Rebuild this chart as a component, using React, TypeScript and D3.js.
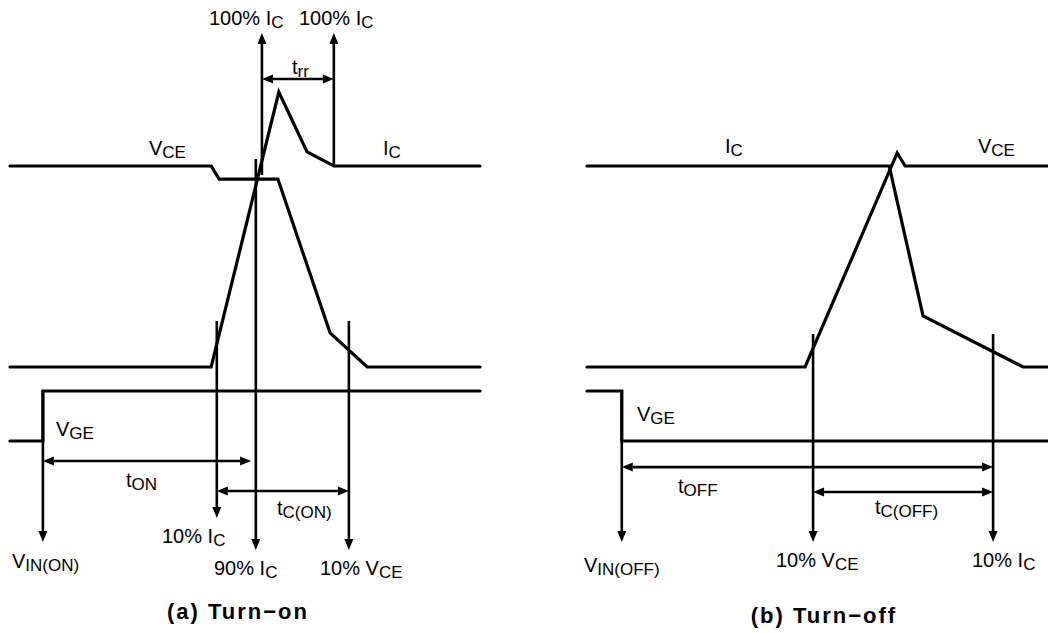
import React from 'react';
import * as d3 from 'd3';

const W = 1048;
const H = 633;

type Pt = [number, number];

// ---- Turn-on waveforms: [time (0..100), level] ----
const onVCE: Pt[] = [[0, 1], [42.8, 1], [44.5, 0.935], [57.0, 0.935], [68.1, 0.17], [76.0, 0], [100, 0]];
const onIC: Pt[] = [[0, 0], [42.8, 0], [57.2, 1.368], [63.2, 1.07], [68.9, 1], [100, 1]];
const onVGE: Pt[] = [[0, 0], [7.0, 0], [7.0, 1], [100, 1]];
const onMarkers = [
  { t: 53.6, y0: 0.955, y1: 1.662 },
  { t: 68.9, y0: 1.0, y1: 1.662 },
  { t: 44.0, y0: 0.229, y1: -0.751 },
  { t: 52.3, y0: 1.035, y1: -0.91 },
  { t: 72.1, y0: 0.229, y1: -0.91 },
  { t: 7.0, y0: -0.119, y1: -0.871 },
];
const onSpans = [
  { t0: 53.6, t1: 68.9, y: 1.433 },
  { t0: 7.0, t1: 51.3, y: -0.468 },
  { t0: 44.0, t1: 72.1, y: -0.617 },
];

// ---- Turn-off waveforms ----
const offIC: Pt[] = [[0, 1], [64.3, 1], [71.5, 0.254], [92.8, 0], [100, 0]];
const offVCE: Pt[] = [[0, 0], [46.4, 0], [66.0, 1.065], [67.7, 1], [100, 1]];
const offVGE: Pt[] = [[0, 1], [7.4, 1], [7.4, 0], [100, 0]];
const offMarkers = [
  { t: 7.4, y0: -0.119, y1: -0.871 },
  { t: 48.1, y0: 0.164, y1: -0.871 },
  { t: 86.4, y0: 0.164, y1: -0.871 },
];
const offSpans = [
  { t0: 7.4, t1: 86.4, y: -0.498 },
  { t0: 48.1, t1: 86.4, y: -0.622 },
];

const yRow = d3.scaleLinear().domain([0, 1]).range([367, 166]);
const yGate = d3.scaleLinear().domain([0, 1]).range([441, 391]);
const xOn = d3.scaleLinear().domain([0, 100]).range([10, 480]);
const xOff = d3.scaleLinear().domain([0, 100]).range([587, 1057]);

const FONT = "'Liberation Sans', Arial, Helvetica, sans-serif";
const AL = 11; // arrow length
const AW = 4.5; // arrow half width

function Wave({ pts, x, y }: { pts: Pt[]; x: any; y: any }) {
  const line = d3.line<Pt>().x((d) => x(d[0])).y((d) => y(d[1]));
  return (
    <path d={line(pts) || ''} fill="none" stroke="#000" strokeWidth={3.2}
      strokeLinejoin="miter" strokeLinecap="round" />
  );
}

function VArrow({ m, x }: { m: { t: number; y0: number; y1: number }; x: any }) {
  const px = x(m.t);
  const a = yRow(m.y0);
  const tip = yRow(m.y1);
  const dir = tip < a ? -1 : 1;
  const base = tip - dir * AL;
  return (
    <g>
      <line x1={px} x2={px} y1={a} y2={base} stroke="#000" strokeWidth={2.6} />
      <polygon points={`${px},${tip} ${px - AW},${base} ${px + AW},${base}`} fill="#000" />
    </g>
  );
}

function HSpan({ s, x }: { s: { t0: number; t1: number; y: number }; x: any }) {
  const a = x(s.t0);
  const b = x(s.t1);
  const py = yRow(s.y);
  return (
    <g>
      <line x1={a + AL} x2={b - AL} y1={py} y2={py} stroke="#000" strokeWidth={2.6} />
      <polygon points={`${a},${py} ${a + AL},${py - AW} ${a + AL},${py + AW}`} fill="#000" />
      <polygon points={`${b},${py} ${b - AL},${py - AW} ${b - AL},${py + AW}`} fill="#000" />
    </g>
  );
}

function Lbl({ x, y, main, sub }: { x: number; y: number; main: string; sub?: string }) {
  return (
    <text x={x} y={y} fontFamily={FONT} fontSize={20} fill="#000">
      <tspan>{main}</tspan>
      {sub ? <tspan fontSize={17} dy={3}>{sub}</tspan> : null}
    </text>
  );
}

export default function App() {
  return (
    <svg width={W} height={H} viewBox={`0 0 ${W} ${H}`}
      style={{ position: 'absolute', left: 0, top: 0, background: '#fff' }}>
      <rect x={0} y={0} width={W} height={H} fill="#fff" />
      {/* Turn-on */}
      <Wave pts={onVCE} x={xOn} y={yRow} />
      <Wave pts={onIC} x={xOn} y={yRow} />
      <Wave pts={onVGE} x={xOn} y={yGate} />
      {onMarkers.map((m, i) => <VArrow key={'om' + i} m={m} x={xOn} />)}
      {onSpans.map((s, i) => <HSpan key={'os' + i} s={s} x={xOn} />)}
      <Lbl x={209} y={25} main="100% I" sub="C" />
      <Lbl x={299} y={25} main="100% I" sub="C" />
      <Lbl x={292} y={74} main="t" sub="rr" />
      <Lbl x={149} y={155} main="V" sub="CE" />
      <Lbl x={383} y={155} main="I" sub="C" />
      <Lbl x={56} y={436} main="V" sub="GE" />
      <Lbl x={126} y={487} main="t" sub="ON" />
      <Lbl x={277} y={515} main="t" sub="C(ON)" />
      <Lbl x={162} y={543} main="10% I" sub="C" />
      <Lbl x={12} y={568} main="V" sub="IN(ON)" />
      <Lbl x={214} y={575} main="90% I" sub="C" />
      <Lbl x={320} y={575} main="10% V" sub="CE" />
      <text x={238} y={619} textAnchor="middle" fontFamily={FONT} fontSize={22}
        fontWeight="bold" letterSpacing={2}>(a) Turn−on</text>

      {/* Turn-off */}
      <Wave pts={offIC} x={xOff} y={yRow} />
      <Wave pts={offVCE} x={xOff} y={yRow} />
      <Wave pts={offVGE} x={xOff} y={yGate} />
      {offMarkers.map((m, i) => <VArrow key={'fm' + i} m={m} x={xOff} />)}
      {offSpans.map((s, i) => <HSpan key={'fs' + i} s={s} x={xOff} />)}
      <Lbl x={725} y={153} main="I" sub="C" />
      <Lbl x={978} y={153} main="V" sub="CE" />
      <Lbl x={637} y={421} main="V" sub="GE" />
      <Lbl x={678} y={493} main="t" sub="OFF" />
      <Lbl x={875} y={514} main="t" sub="C(OFF)" />
      <Lbl x={584} y={572} main="V" sub="IN(OFF)" />
      <Lbl x={776} y={567} main="10% V" sub="CE" />
      <Lbl x={972} y={567} main="10% I" sub="C" />
      <text x={824} y={623} textAnchor="middle" fontFamily={FONT} fontSize={22}
        fontWeight="bold" letterSpacing={2}>(b) Turn−off</text>
    </svg>
  );
}
